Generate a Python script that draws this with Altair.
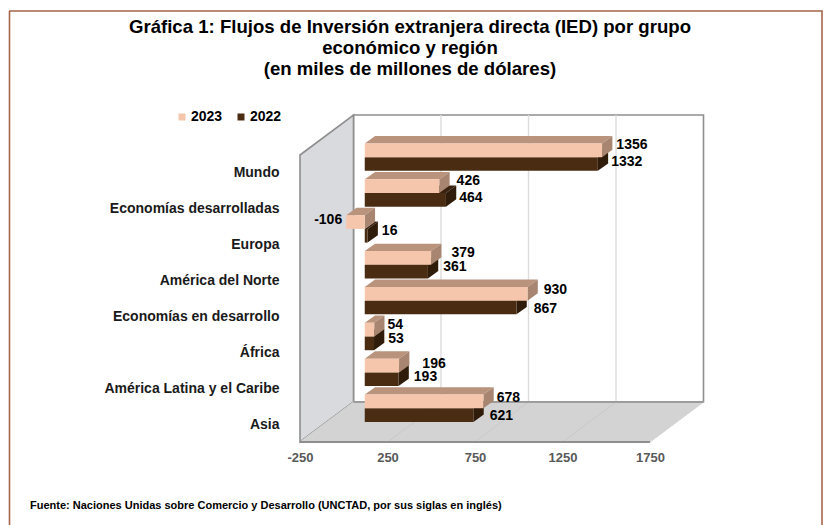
import json
import altair as alt
import pandas as pd

TITLE = ["Gráfica 1: Flujos de Inversión extranjera directa (IED) por grupo",
         "económico y región",
         "(en miles de millones de dólares)"]
FOOTER = "Fuente: Naciones Unidas sobre Comercio y Desarrollo (UNCTAD, por sus siglas en inglés)"
CATEGORIES = ["Mundo", "Economías desarrolladas", "Europa", "América del Norte",
              "Economías en desarrollo", "África", "América Latina y el Caribe", "Asia"]
VALUES_2023 = [1356, 426, -106, 379, 930, 54, 196, 678]
VALUES_2022 = [1332, 464, 16, 361, 867, 53, 193, 621]
X_TICKS = [-250, 250, 750, 1250, 1750]

# hand-placed label offsets of the original (pixels from the bar end / bar centre)
NUDGE_X_2023 = [4, 7, -4, 10, 6, 3, 13, 3]
NUDGE_Y_2023 = [-5, -5, -2, -5, -4, -5, -2, -3]
NUDGE_X_2022 = [3, 3, 4, 5, 7, 4, 5, 6]
NUDGE_Y_2022 = [-2, -2, -5, -5, 2, -4, -2, 1]

FONT = "Liberation Sans"
XMIN, XMAX = -250, 1750
PLOT_W, PLOT_H = 350, 287
PX_X = PLOT_W / (XMAX - XMIN)
PX_Y = PLOT_H / len(CATEGORIES)

WALL_DX = 53.5 / PX_X
WALL_DY = 40.0 / PX_Y
BASE_DX = 21.0 / PX_X
BASE_DY = 15.8 / PX_Y
BAR_DX = 10.3 / PX_X
BAR_DY = 7.4 / PX_Y
BAR_H = 13.7 / PX_Y

xs = alt.Scale(domain=[XMIN, XMAX], nice=False, zero=False)
ys = alt.Scale(domain=[len(CATEGORIES), 0], nice=False, zero=False)
X = lambda f: alt.X(f, type="quantitative", scale=xs, title=None)
Y = lambda f: alt.Y(f, type="quantitative", scale=ys, title=None)
X2 = lambda f: alt.X2(f)
Y2 = lambda f: alt.Y2(f)


def rows(values, year, first_slot_offset):
    front, top, side = [], [], []
    for i, v in enumerate(values):
        y0 = i + 0.5 - BASE_DY + first_slot_offset
        y1 = y0 + BAR_H
        lo, hi = min(v, 0) + BASE_DX, max(v, 0) + BASE_DX
        bid = f"{year}-{i}"
        front.append(dict(x=lo, x2=hi, y=y0, y2=y1, serie=str(year)))
        top.append(dict(id=bid, y=y0, x=lo, x2=hi))
        top.append(dict(id=bid, y=y0 - BAR_DY, x=lo + BAR_DX, x2=hi + BAR_DX))
        side.append(dict(id=bid, x=hi, y=y0, y2=y1))
        side.append(dict(id=bid, x=hi + BAR_DX, y=y0 - BAR_DY, y2=y1 - BAR_DY))
    return pd.DataFrame(front), pd.DataFrame(top), pd.DataFrame(side)


def faces(values, year, offset, c_top, c_side):
    f, t, s = rows(values, year, offset)
    return [
        alt.Chart(t).mark_area(orient="horizontal", color=c_top, clip=False).encode(
            y=Y("y"), x=X("x"), x2=X2("x2"), detail="id:N"),
        alt.Chart(s).mark_area(orient="vertical", color=c_side, clip=False).encode(
            x=X("x"), y=Y("y"), y2=Y2("y2"), detail="id:N"),
    ], f


n = len(CATEGORIES)
left_wall = pd.DataFrame([dict(x=XMIN, y=0, y2=n),
                          dict(x=XMIN + WALL_DX, y=-WALL_DY, y2=n - WALL_DY)])
floor = pd.DataFrame([dict(y=n, x=XMIN, x2=XMAX),
                      dict(y=n - WALL_DY, x=XMIN + WALL_DX, x2=XMAX + WALL_DX)])
back = pd.DataFrame([dict(x=XMIN + WALL_DX, x2=XMAX + WALL_DX, y=-WALL_DY, y2=n - WALL_DY)])
back_grid = pd.DataFrame([dict(x=t + WALL_DX, y=-WALL_DY, y2=n - WALL_DY) for t in X_TICKS[1:-1]])
floor_grid = pd.DataFrame(
    [dict(id=t, x=t, y=n) for t in X_TICKS[1:-1]]
    + [dict(id=t, x=t + WALL_DX, y=n - WALL_DY) for t in X_TICKS[1:-1]])

EDGE = "#8e8e8e"
wall_layers = [
    alt.Chart(back).mark_rect(fill="#ffffff", stroke=EDGE, strokeWidth=1.6).encode(
        x=X("x"), x2=X2("x2"), y=Y("y"), y2=Y2("y2")),
    alt.Chart(back_grid).mark_rule(color="#dcdcdc", strokeWidth=1.4).encode(
        x=X("x"), y=Y("y"), y2=Y2("y2")),
    alt.Chart(left_wall).mark_area(orient="vertical", color="#d9dadd", stroke=EDGE,
                                   strokeWidth=1.6).encode(
        x=X("x"), y=Y("y"), y2=Y2("y2")),
    alt.Chart(floor).mark_area(orient="horizontal", color="#d3d3d3", stroke="#d3d3d3",
                               strokeWidth=1).encode(
        y=Y("y"), x=X("x"), x2=X2("x2")),
    alt.Chart(floor_grid).mark_line(color="#c8c8c8", strokeWidth=1).encode(
        x=X("x"), y=Y("y"), detail="id:N"),
    alt.Chart(pd.DataFrame([dict(x=XMIN, x2=XMAX, y=n)])).mark_rule(
        color=EDGE, strokeWidth=1.8).encode(x=X("x"), x2=X2("x2"), y=Y("y")),
    alt.Chart(pd.DataFrame([dict(x=XMIN + WALL_DX, x2=XMAX + WALL_DX, y=n - WALL_DY)])).mark_rule(
        color=EDGE, strokeWidth=1.6).encode(x=X("x"), x2=X2("x2"), y=Y("y")),
]

f22_layers, f22 = faces(VALUES_2022, 2022, 0.0, "#3a2210", "#2f1c0b")
f23_layers, f23 = faces(VALUES_2023, 2023, -BAR_H, "#b9937c", "#a78570")
front_df = pd.concat([f22, f23], ignore_index=True)

color = alt.Color("serie:N",
                  scale=alt.Scale(domain=["2023", "2022"], range=["#f5c6ab", "#4a2c12"]),
                  legend=alt.Legend(title=None, orient="none", legendX=-125, legendY=-45,
                                    direction="horizontal", symbolType="square", symbolSize=49,
                                    symbolStrokeWidth=0, columnPadding=11, labelOffset=2,
                                    labelFont=FONT, labelFontWeight="bold", labelFontSize=14,
                                    labelColor="#000000"))
front_2022 = alt.Chart(front_df[front_df.serie == "2022"]).mark_rect().encode(
    x=X("x"), x2=X2("x2"), y=Y("y"), y2=Y2("y2"), color=color)
front_2023 = alt.Chart(front_df[front_df.serie == "2023"]).mark_rect().encode(
    x=X("x"), x2=X2("x2"), y=Y("y"), y2=Y2("y2"), color=color)

labels = []
for vals, nx, ny, off in [(VALUES_2023, NUDGE_X_2023, NUDGE_Y_2023, -BAR_H / 2),
                          (VALUES_2022, NUDGE_X_2022, NUDGE_Y_2022, BAR_H / 2)]:
    for i, v in enumerate(vals):
        if v < 0:
            lx, align = v + BASE_DX + nx[i] / PX_X, "right"
        else:
            lx, align = v + BASE_DX + BAR_DX + nx[i] / PX_X, "left"
        labels.append(dict(x=lx, y=i + 0.5 - BASE_DY + off + ny[i] / PX_Y,
                           t=str(v), a=align))
lab = pd.DataFrame(labels)
label_layers = [
    alt.Chart(lab[lab.a == a]).mark_text(align=a, baseline="middle", font=FONT, fontWeight="bold",
                                         fontSize=14, color="#000000").encode(
        x=X("x"), y=Y("y"), text="t:N")
    for a in ["left", "right"]
]

axis_layer = alt.Chart(pd.DataFrame({"x": [XMIN], "y": [0]})).mark_point(opacity=0).encode(
    x=alt.X("x:Q", scale=xs, title=None,
            axis=alt.Axis(values=X_TICKS, domain=False, ticks=False, grid=False,
                          labelExpr="toString(datum.value)",
                          labelPadding=9, labelFont=FONT, labelFontWeight="bold", labelFontSize=13,
                          labelColor="#595959", labelFlush=False, labelOverlap=False)),
    y=alt.Y("y:Q", scale=ys, title=None,
            axis=alt.Axis(values=[i + 0.5 for i in range(n)], domain=False, ticks=False, grid=False,
                          labelPadding=21, labelFont=FONT, labelFontWeight="bold",
                          labelFontSize=14, labelColor="#1a1a1a", labelOverlap=False,
                          labelExpr=json.dumps(CATEGORIES, ensure_ascii=False)
                          + "[floor(datum.value)]")),
)

FRAME = "#a5634a"
frame_layers = [
    alt.Chart(pd.DataFrame({"a": [0]})).mark_rule(color=FRAME, strokeWidth=1.6).encode(
        x=alt.value(-290.5), y=alt.value(-144), y2=alt.value(372)),
    alt.Chart(pd.DataFrame({"a": [0]})).mark_rule(color=FRAME, strokeWidth=1.6).encode(
        x=alt.value(522), y=alt.value(-144), y2=alt.value(372)),
    alt.Chart(pd.DataFrame({"a": [0]})).mark_rule(color=FRAME, strokeWidth=1.6).encode(
        x=alt.value(-291), x2=alt.value(522.8), y=alt.value(-144)),
]
footer = alt.Chart(pd.DataFrame({"t": [FOOTER]})).mark_text(
    align="left", baseline="middle", font=FONT, fontWeight="bold", fontSize=11, color="#000000"
).encode(x=alt.value(-270), y=alt.value(351), text="t:N")

title_y = [-128, -107, -86]
title_layers = [
    alt.Chart(pd.DataFrame({"t": [t]})).mark_text(
        align="center", baseline="middle", font=FONT, fontWeight="bold", fontSize=18.6,
        color="#000000").encode(x=alt.value(110), y=alt.value(yy), text="t:N")
    for t, yy in zip(TITLE, title_y)
]

chart = alt.layer(
    axis_layer, *wall_layers, *f22_layers, front_2022, *f23_layers, front_2023,
    *label_layers, *frame_layers, footer, *title_layers,
).properties(
    width=PLOT_W, height=PLOT_H,
    padding={"left": 292, "top": 147, "right": 173, "bottom": 83},
    autosize=alt.AutoSizeParams(type="none"),
    background="#ffffff",
).configure_view(stroke=None)

chart.save("out.html", embed_options={"renderer": "svg", "actions": False})
